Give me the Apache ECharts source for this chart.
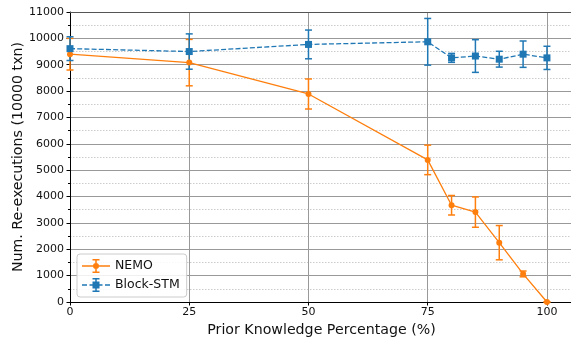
<!DOCTYPE html>
<html>
<head>
<meta charset="utf-8">
<script src="https://cdn.jsdelivr.net/npm/echarts@6/dist/echarts.min.js"></script>
<style>html,body{margin:0;padding:0;background:#fff;overflow:hidden}#c{width:571px;height:343px}</style>
</head>
<body>
<div id="c"></div>
<script>
const xValues = [0, 25, 50, 75, 80, 85, 90, 95, 100];
const nemoMean = [9400, 9080, 7890, 5390, 3670, 3410, 2250, 1065, 0];
const nemoErr = [600, 880, 570, 560, 370, 575, 650, 110, 0];
const stmMean = [9610, 9500, 9770, 9870, 9260, 9330, 9210, 9400, 9260];
const stmErr = [450, 670, 545, 885, 170, 620, 300, 500, 440];
const xTicks = [0, 25, 50, 75, 100];
const yTicks = [0, 1000, 2000, 3000, 4000, 5000, 6000, 7000, 8000, 9000, 10000, 11000];

const ORANGE = '#ff7f0e', BLUE = '#1f77b4';
const FONT = 'DejaVu Sans';

function pts(m){ return xValues.map((x,i)=>[x, m[i]]); }
function errData(m,e){ return xValues.map((x,i)=>[x, m[i]-e[i], m[i]+e[i]]); }

function errSeries(name, m, e, color){
  return {
    type: 'custom', name: name, silent: true, z: 2,
    data: errData(m,e),
    renderItem: function(params, api){
      const lo = api.coord([api.value(0), api.value(1)]);
      const hi = api.coord([api.value(0), api.value(2)]);
      const st = {stroke: color, lineWidth: 1.5};
      const cw = 3.5;
      return {type:'group', children:[
        {type:'line', shape:{x1:lo[0], y1:lo[1], x2:hi[0], y2:hi[1]}, style:st},
        {type:'line', shape:{x1:lo[0]-cw, y1:lo[1], x2:lo[0]+cw, y2:lo[1]}, style:st},
        {type:'line', shape:{x1:hi[0]-cw, y1:hi[1], x2:hi[0]+cw, y2:hi[1]}, style:st}
      ]};
    }
  };
}

const common = 'M0 6.25H28V7.75H0Z';
const bars = 'M13.25 0H14.75V14H13.25ZM10.5 0H17.5V1.5H10.5ZM10.5 12.5H17.5V14H10.5Z';
const circ = 'M11 7A3 3 0 1 1 17 7A3 3 0 1 1 11 7Z';
const dashes = 'M0 6.25H5V7.75H0ZM7.5 6.25H10.5V7.75H7.5ZM17.5 6.25H20.5V7.75H17.5ZM23 6.25H28V7.75H23Z';
const sq = 'M10.5 3.5H17.5V10.5H10.5Z';
const nemoIcon = 'path://' + common + bars + circ;
const stmIcon = 'path://' + dashes + bars + sq;

const chart = echarts.init(document.getElementById('c'), null, {renderer:'canvas'});
chart.setOption({
  animation: false,
  backgroundColor: '#fff',
  grid: {left: 70, top: 12, right: -6, bottom: 41, show: false,
    containLabel: false, outerBoundsMode: 'none'},
  xAxis: [{
    type: 'value', min: 0, max: 106.3, interval: 25,
    name: 'Prior Knowledge Percentage (%)', nameLocation: 'middle', nameGap: 20,
    nameTextStyle: {fontFamily: FONT, fontSize: 14.2, color: '#111', padding: [0, 4, 0, 0]},
    axisLine: {show: true, lineStyle: {color: '#000', width: 1}},
    axisTick: {show: true, length: 3.5, lineStyle: {color: '#000'}},
    axisLabel: {fontFamily: FONT, fontSize: 11, color: '#111', margin: 5, showMaxLabel: false,
      formatter: v => xTicks.indexOf(v) >= 0 ? String(v) : ''},
    splitLine: {show: true, lineStyle: {color: '#999', width: 1}}
  }, {
    type: 'value', position: 'top', min: 0, max: 106.3, interval: 25,
    axisLine: {show: true, lineStyle: {color: '#555', width: 1.2}},
    axisTick: {show: false}, axisLabel: {show: false}, splitLine: {show: false}
  }],
  yAxis: {
    type: 'value', min: 0, max: 11000, interval: 1000,
    name: 'Num. Re-executions (10000 txn)', nameLocation: 'middle', nameGap: 45,
    nameMoveOverlap: false,
    nameTextStyle: {fontFamily: FONT, fontSize: 14.2, color: '#111'},
    axisLine: {show: true, lineStyle: {color: '#000', width: 1}},
    axisTick: {show: true, length: 3.5, lineStyle: {color: '#000'}},
    minorTick: {show: true, splitNumber: 2, length: 2, lineStyle: {color: '#000'}},
    axisLabel: {fontFamily: FONT, fontSize: 11, color: '#111', margin: 6,
      formatter: v => yTicks.indexOf(v) >= 0 ? String(v) : ''},
    splitLine: {show: true, lineStyle: {color: '#999', width: 1}},
    minorSplitLine: {show: true, lineStyle: {color: '#ccc', width: 1, type: [1.5, 1.5]}}
  },
  legend: {
    left: 77, top: 254, orient: 'vertical', itemWidth: 28, itemHeight: 14, itemGap: 5,
    padding: [5, 7, 5, 5],
    backgroundColor: 'rgba(255,255,255,0.85)', borderColor: '#ccc', borderWidth: 1, borderRadius: 3,
    textStyle: {fontFamily: FONT, fontSize: 12.5, color: '#111'},
    data: [
      {name: 'NEMO', icon: nemoIcon, itemStyle: {color: ORANGE}},
      {name: 'Block-STM', icon: stmIcon, itemStyle: {color: BLUE}}
    ]
  },
  series: [
    errSeries('NEMO err', nemoMean, nemoErr, ORANGE),
    errSeries('Block-STM err', stmMean, stmErr, BLUE),
    {type: 'line', name: 'NEMO', data: pts(nemoMean), z: 3, color: ORANGE,
      symbol: 'circle', symbolSize: 6, showSymbol: true,
      lineStyle: {color: ORANGE, width: 1.3}, itemStyle: {color: ORANGE}},
    {type: 'line', name: 'Block-STM', data: pts(stmMean), z: 3, color: BLUE,
      symbol: 'rect', symbolSize: 7, showSymbol: true,
      lineStyle: {color: BLUE, width: 1.3, type: [5, 2.2]}, itemStyle: {color: BLUE}}
  ]
});
</script>
</body>
</html>
